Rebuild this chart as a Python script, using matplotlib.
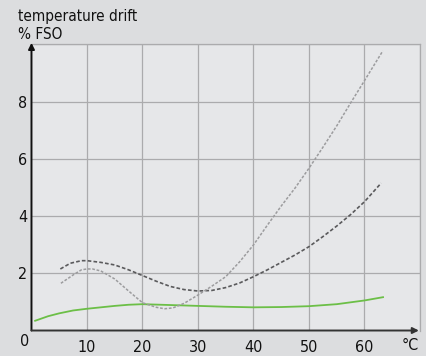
import numpy as np
import matplotlib
matplotlib.use('Agg')
import matplotlib.pyplot as plt

plt.rcParams['font.family'] = ['DejaVu Sans']
plt.rcParams['font.stretch'] = 'condensed'

# values (temperature in °C, drift in % FSO)
green_t = [0.5, 3, 5, 7.5, 10, 12.5, 15, 17.5, 20, 25, 30, 35, 40, 45, 50, 55, 60, 63.5]
green_d = [0.33, 0.50, 0.60, 0.70, 0.76, 0.81, 0.86, 0.90, 0.92, 0.89, 0.86, 0.83,
           0.81, 0.82, 0.85, 0.92, 1.05, 1.17]

dark_t = [5.2, 7, 9, 10, 12.5, 15, 17.5, 20, 22.5, 25, 27.5, 30, 32.5, 35, 37.5,
          40, 42.5, 45, 47.5, 50, 52.5, 55, 57.5, 60, 63]
dark_d = [2.15, 2.35, 2.44, 2.44, 2.38, 2.29, 2.12, 1.92, 1.72, 1.54, 1.43, 1.38,
          1.40, 1.50, 1.66, 1.88, 2.12, 2.38, 2.64, 2.93, 3.28, 3.65, 4.05, 4.50, 5.15]

light_t = [5.3, 7.5, 9, 10, 11, 12.5, 15, 17.5, 20, 22.5, 24, 25.5, 27.5, 30, 32.5,
           35, 37.5, 40, 42.5, 45, 47.5, 50, 52.5, 55, 57.5, 60, 63.3]
light_d = [1.65, 1.94, 2.12, 2.15, 2.15, 2.08, 1.80, 1.38, 0.97, 0.81, 0.76, 0.79,
           0.95, 1.24, 1.55, 1.88, 2.40, 2.99, 3.68, 4.35, 4.98, 5.67, 6.40, 7.15,
           7.95, 8.73, 9.77]

x_ticks = [10, 20, 30, 40, 50, 60, 70]
x_labels = ['10', '20', '30', '40', '50', '60', '']
y_ticks = [2, 4, 6, 8, 10]
y_labels = ['2', '4', '6', '8', '']

grid_col = '#ababad'

fig = plt.figure(figsize=(4.26, 3.56), dpi=100, facecolor='#dcdddf')
ax = fig.add_axes([0.0739, 0.0716, 0.912, 0.804])
ax.set_facecolor('#e6e7e9')
ax.set_xlim(0, 70)
ax.set_ylim(0, 10)

ax.set_xticks(x_ticks)
ax.set_xticklabels(x_labels)
ax.set_yticks(y_ticks)
ax.set_yticklabels(y_labels)
ax.tick_params(length=0, labelsize=11.5, colors='#111111')
ax.tick_params(axis='x', pad=7)
ax.tick_params(axis='y', pad=3)
ax.grid(True, color=grid_col, lw=0.9)
ax.set_axisbelow(True)

for s in ['top', 'right']:
    ax.spines[s].set_color(grid_col)
    ax.spines[s].set_linewidth(0.9)
for s in ['left', 'bottom']:
    ax.spines[s].set_visible(False)

ax.plot(green_t, green_d, color='#6cbf47', lw=1.3, solid_capstyle='butt')
ax.plot(dark_t, dark_d, color='#5a5a5c', lw=1.2, dashes=(2.2, 1.3))
ax.plot(light_t, light_d, color='#9c9c9e', lw=1.1, dashes=(1.8, 1.1))

# axes with arrow heads
ax.annotate('', xy=(0, 10.05), xytext=(0, 0), xycoords='data',
            arrowprops=dict(arrowstyle='-|>', color='#111111', lw=1.4,
                            mutation_scale=9, shrinkA=0, shrinkB=0),
            annotation_clip=False)
ax.annotate('', xy=(69.8, 0), xytext=(0, 0), xycoords='data',
            arrowprops=dict(arrowstyle='-|>', color='#333333', lw=1.4,
                            mutation_scale=9, shrinkA=0, shrinkB=0),
            annotation_clip=False)

ax.annotate('0', xy=(0, 0), xytext=(-5, -8), textcoords='offset points',
            ha='center', va='center', fontsize=11.5, color='#111111',
            annotation_clip=False)
ax.annotate('°C', xy=(68.2, 0), xytext=(0, -11), textcoords='offset points',
            ha='center', va='center', fontsize=11.5, color='#111111',
            annotation_clip=False)

fig.text(18 / 426, 1 - 9 / 356, 'temperature drift\n% FSO', ha='left', va='top',
         fontsize=11, color='#111111', linespacing=1.25)

fig.savefig('out.png', dpi=100, facecolor=fig.get_facecolor())
